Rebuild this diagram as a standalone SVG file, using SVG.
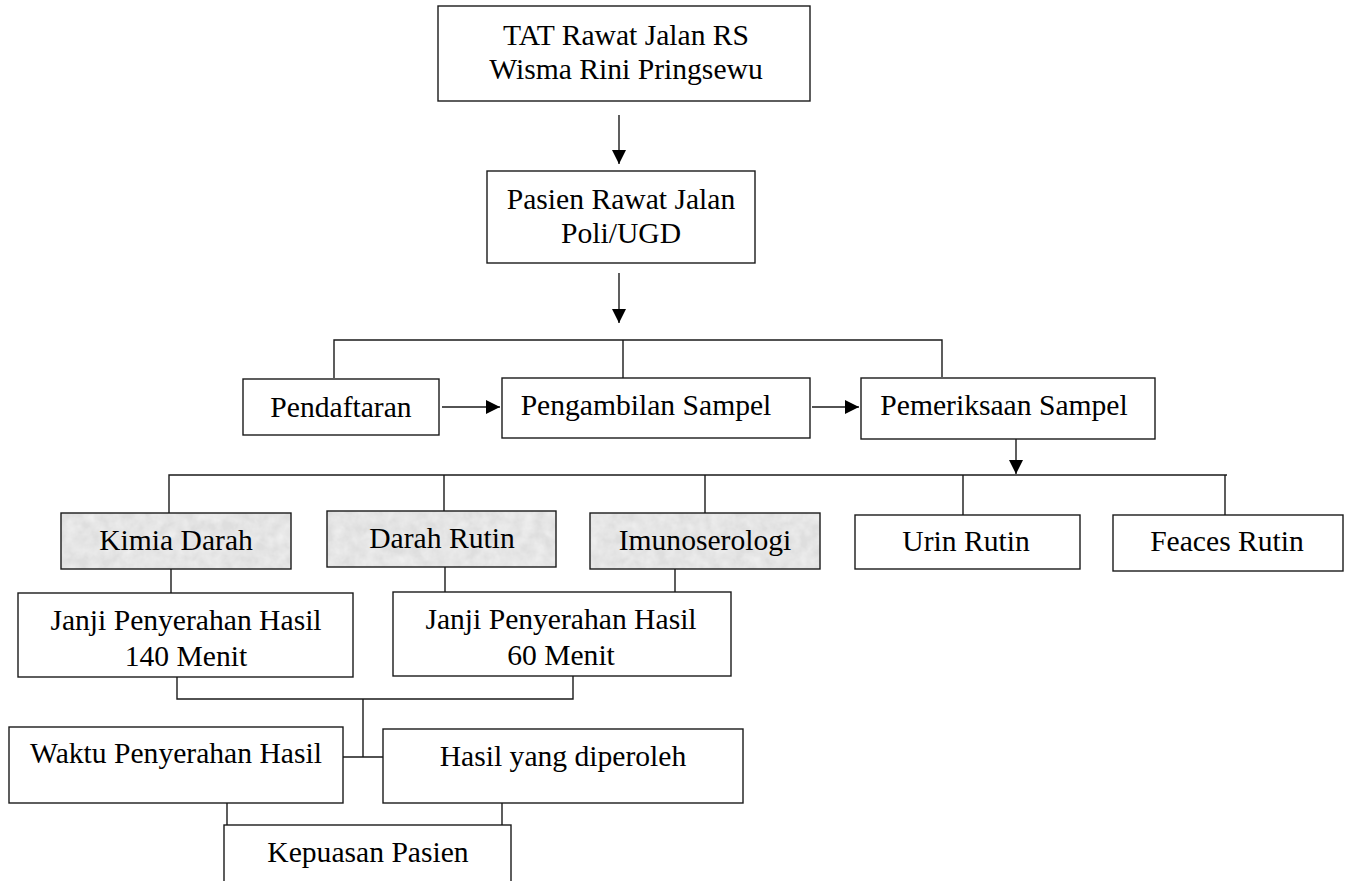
<svg xmlns="http://www.w3.org/2000/svg" width="1352" height="881" viewBox="0 0 1352 881">
<style>
.box{fill:#fff;stroke:#1a1a1a;stroke-width:1.4}
.sbox{fill:none;stroke:#1a1a1a;stroke-width:1.4}
.lbl{font-family:"Liberation Serif","Times New Roman",serif;font-size:29.6px;fill:#000;text-anchor:middle}
.con{fill:none;stroke:#1a1a1a;stroke-width:1.4}
</style>
<defs>
<marker id="ah" markerUnits="userSpaceOnUse" markerWidth="15" markerHeight="15" refX="14" refY="7" orient="auto">
<path d="M0,0 L14,7 L0,14 z" fill="#000"/>
</marker>
<filter id="mottle" x="0" y="0" width="100%" height="100%">
<feTurbulence type="fractalNoise" baseFrequency="0.09" numOctaves="3" seed="4" result="n"/>
<feColorMatrix in="n" type="matrix" values="0 0 0 0 0  0 0 0 0 0  0 0 0 0 0  0.5 0.5 0 0 -0.3" result="a"/>
<feFlood flood-color="#ffffff" result="w"/>
<feComposite in="w" in2="a" operator="in" result="spots"/>
<feFlood flood-color="#dedede" result="bg"/>
<feMerge><feMergeNode in="bg"/><feMergeNode in="spots"/></feMerge>
</filter>
</defs>
<rect width="1352" height="881" fill="#fff"/>
<g id="connectors">
<line class="con" x1="619" y1="115" x2="619" y2="164" marker-end="url(#ah)"/>
<line class="con" x1="619" y1="273" x2="619" y2="323" marker-end="url(#ah)"/>
<path class="con" d="M334,378 V340 H942 V377 M623,340 V378"/>
<line class="con" x1="442" y1="407" x2="500" y2="407" marker-end="url(#ah)"/>
<line class="con" x1="812" y1="407" x2="859" y2="407" marker-end="url(#ah)"/>
<line class="con" x1="1016" y1="439" x2="1016" y2="474" marker-end="url(#ah)"/>
<path class="con" d="M169,513 V475 H1227 M444,475 V511 M705,475 V513 M963,475 V515 M1225,475 V515"/>
<path class="con" d="M171,569 V593 M445,567 V592 M675,569 V592"/>
<path class="con" d="M177,677 V699 H573 V676 M363,699 V757 M343,757 H383"/>
<path class="con" d="M227,803 V825 M502,803 V825"/>
</g>
<g id="n-tat">
<rect class="box" x="438" y="6" width="372" height="95"/>
<text class="lbl" x="626" y="45">TAT Rawat Jalan RS</text>
<text class="lbl" x="626" y="79">Wisma Rini Pringsewu</text>
</g>
<g id="n-pasien">
<rect class="box" x="487" y="171" width="268" height="92"/>
<text class="lbl" x="621" y="209">Pasien Rawat Jalan</text>
<text class="lbl" x="621" y="243">Poli/UGD</text>
</g>
<g id="n-pendaftaran">
<rect class="box" x="243" y="379" width="196" height="56"/>
<text class="lbl" x="341" y="417">Pendaftaran</text>
</g>
<g id="n-pengambilan">
<rect class="box" x="502" y="378" width="308" height="60"/>
<text class="lbl" x="646" y="415">Pengambilan Sampel</text>
</g>
<g id="n-pemeriksaan">
<rect class="box" x="861" y="378" width="294" height="61"/>
<text class="lbl" x="1004" y="415">Pemeriksaan Sampel</text>
</g>
<g id="n-kimia">
<rect x="61" y="513" width="230" height="56" filter="url(#mottle)"/>
<rect class="sbox" x="61" y="513" width="230" height="56"/>
<text class="lbl" x="176" y="550">Kimia Darah</text>
</g>
<g id="n-darah">
<rect x="327" y="511" width="229" height="56" filter="url(#mottle)"/>
<rect class="sbox" x="327" y="511" width="229" height="56"/>
<text class="lbl" x="442" y="548">Darah Rutin</text>
</g>
<g id="n-imuno">
<rect x="590" y="513" width="230" height="56" filter="url(#mottle)"/>
<rect class="sbox" x="590" y="513" width="230" height="56"/>
<text class="lbl" x="705" y="550">Imunoserologi</text>
</g>
<g id="n-urin">
<rect class="box" x="855" y="515" width="225" height="54"/>
<text class="lbl" x="966" y="551">Urin Rutin</text>
</g>
<g id="n-feaces">
<rect class="box" x="1113" y="515" width="230" height="56"/>
<text class="lbl" x="1227" y="551">Feaces Rutin</text>
</g>
<g id="n-janji140">
<rect class="box" x="18" y="593" width="335" height="84"/>
<text class="lbl" x="186" y="630">Janji Penyerahan Hasil</text>
<text class="lbl" x="186" y="666">140 Menit</text>
</g>
<g id="n-janji60">
<rect class="box" x="393" y="592" width="338" height="84"/>
<text class="lbl" x="561" y="629">Janji Penyerahan Hasil</text>
<text class="lbl" x="561" y="665">60 Menit</text>
</g>
<g id="n-waktu">
<rect class="box" x="9" y="727" width="334" height="76"/>
<text class="lbl" x="176" y="763">Waktu Penyerahan Hasil</text>
</g>
<g id="n-hasil">
<rect class="box" x="383" y="729" width="360" height="74"/>
<text class="lbl" x="563" y="766">Hasil yang diperoleh</text>
</g>
<g id="n-kepuasan">
<rect class="box" x="224" y="825" width="287" height="80"/>
<text class="lbl" x="368" y="862">Kepuasan Pasien</text>
</g>
</svg>
